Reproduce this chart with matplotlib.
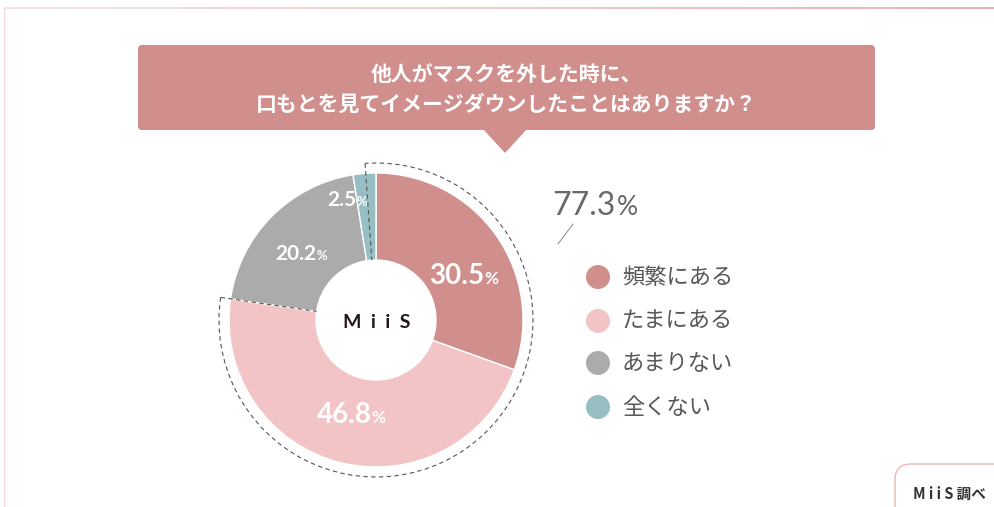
import numpy as np
import matplotlib
matplotlib.use("Agg")
import matplotlib.pyplot as plt
from matplotlib.patches import FancyBboxPatch, Polygon, Arc, Circle
from matplotlib.collections import LineCollection

# data
categories = ["頻繁にある", "たまにある", "あまりない", "全くない"]
values = [30.5, 46.8, 20.2, 2.5]
colors = ["#D08F8C", "#F2C4C5", "#ABABAB", "#97BEC2"]
title_lines = ["他人がマスクを外した時に、", "口もとを見てイメージダウンしたことはありますか？"]
total_label = "77.3"
source_text = "M i i S 調べ"

W, H = 995, 507
JP = ["Noto Sans CJK JP", "DejaVu Sans"]
NUM = ["Lato", "DejaVu Sans"]

fig = plt.figure(figsize=(W / 100, H / 100), dpi=100)
ax = fig.add_axes([0, 0, 1, 1])

def Y(y):
    # top-based pixel row -> data y
    return H - y

# outer frame (thin pink lines)
xs = np.linspace(4, W, 60)
segs = [[(xs[i], Y(8)), (xs[i + 1], Y(8))] for i in range(len(xs) - 1)]
c0 = np.array(matplotlib.colors.to_rgb("#F6E0E0"))
c1 = np.array(matplotlib.colors.to_rgb("#DFA3A3"))
seg_cols = [tuple(c0 + (c1 - c0) * t) for t in np.linspace(0, 1, len(segs))]
ax.add_collection(LineCollection(segs, colors=seg_cols, linewidths=1.2))
ax.plot([4, 4], [Y(8), 0], color="#F3DADA", lw=1)

# title balloon
box_col = "#D08F8C"
ax.add_patch(FancyBboxPatch((138, Y(130)), 875 - 138, 85,
                            boxstyle="round,pad=0,rounding_size=4",
                            fc=box_col, ec="none"))
ax.add_patch(Polygon([(483, Y(129)), (527, Y(129)), (505, Y(153))],
                     closed=True, fc=box_col, ec="none"))
ax.text(506, Y(74), title_lines[0], ha="center", va="center", color="white",
        fontsize=15, fontweight="bold", family=JP)
ax.text(506, Y(104), title_lines[1], ha="center", va="center", color="white",
        fontsize=15, fontweight="bold", family=JP)

# donut
cx, cy = 376, Y(320)
R, r_in = 147, 60
wedges, _ = ax.pie(values, colors=colors, startangle=90, counterclock=False,
                   center=(cx, cy), radius=R, frame=True,
                   wedgeprops=dict(width=R - r_in, edgecolor="white", linewidth=1))
ax.set_xlim(0, W)
ax.set_ylim(0, H)
ax.set_aspect("equal")
ax.axis("off")

# dashed arc around the "ある" share
top_share = values[0] + values[1]
end_ang = 90 - 360 * top_share / 100 + 360
start_ang = 94 + 360
Rd = 157
ax.add_patch(Arc((cx, cy), 2 * Rd, 2 * Rd, theta1=end_ang, theta2=start_ang,
                 color="#555555", lw=0.8, linestyle=(0, (4, 3))))
for ang in (end_ang, start_ang):
    a = np.deg2rad(ang)
    ax.plot([cx + Rd * np.cos(a), cx + r_in * np.cos(a)],
            [cy + Rd * np.sin(a), cy + r_in * np.sin(a)],
            color="#555555", lw=0.8, linestyle=(0, (4, 3)))

# percentage labels
lab_r = [100, 96, 100, 126]
lab_nudge = [-8, 0, 2, 11]
lab_size = [20, 20, 15, 15]
for w, v, rr, nd, fs in zip(wedges, values, lab_r, lab_nudge, lab_size):
    mid = np.deg2rad((w.theta1 + w.theta2) / 2 + nd)
    lx, ly = cx + rr * np.cos(mid), cy + rr * np.sin(mid)
    split = lx + fs * 0.95
    base = ly - fs * 0.5
    ax.text(split, base, f"{v}", ha="right", va="baseline", color="white",
            fontsize=fs, fontweight="bold", family=NUM)
    ax.text(split, base, "%", ha="left", va="baseline", color="white",
            fontsize=fs * 0.62, fontweight="bold", family=NUM)

ax.text(cx + 1, Y(323), "M  i  i  S", ha="center", va="center", color="#231815",
        fontsize=14, fontweight="bold", family=NUM)

# total annotation
ax.plot([558, 573], [Y(244), Y(224)], color="#888888", lw=0.7)
ax.text(552, Y(215), total_label, ha="left", va="baseline", color="#6A6868",
        fontsize=23, fontweight="normal", family=NUM)
ax.text(617, Y(215), "%", ha="left", va="baseline", color="#6A6868",
        fontsize=19, fontweight="normal", family=NUM)

# legend
leg_y = [277, 321, 363, 407]
for cat, col, yy in zip(categories, colors, leg_y):
    ax.add_patch(Circle((598, Y(yy)), 12, fc=col, ec="none"))
    ax.text(622, Y(yy), cat, ha="left", va="center", color="#595757",
            fontsize=16, family=JP)

# source tag (box runs off the right edge)
ax.add_patch(FancyBboxPatch((895, -30), 200, Y(464) + 30,
                            boxstyle="round,pad=0,rounding_size=16",
                            fc="white", ec="#EBB5B5", lw=1, clip_on=True))
ax.text(913, Y(494), source_text, ha="left", va="center", color="#333333",
        fontsize=10.5, fontweight="bold", family=JP)

fig.savefig("out.png", dpi=100)
